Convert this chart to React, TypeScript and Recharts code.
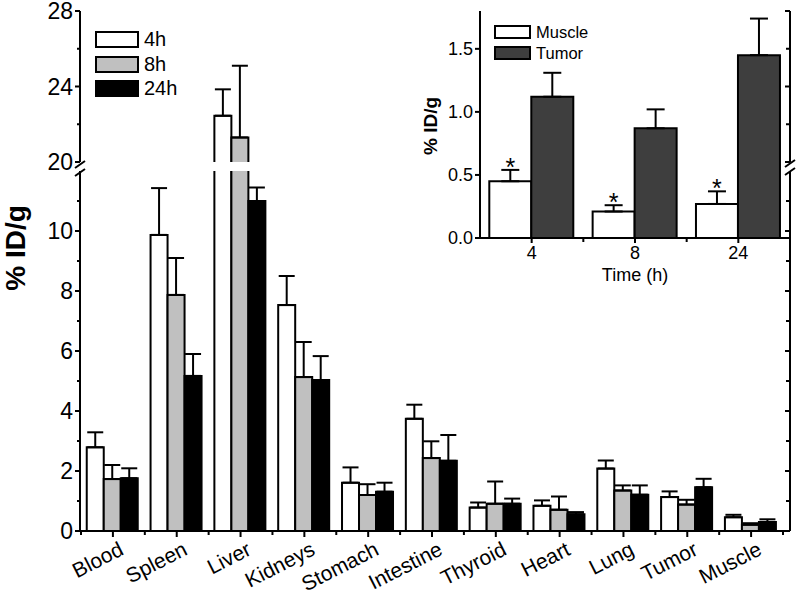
import React from 'react';
import { BarChart, Bar, XAxis, YAxis, ErrorBar, Legend } from 'recharts';

const FONT = '"Liberation Sans", Arial, Helvetica, sans-serif';
const INK = '#000';

// biodistribution, % ID/g at 4 h, 8 h and 24 h
const organs = ['Blood', 'Spleen', 'Liver', 'Kidneys', 'Stomach', 'Intestine', 'Thyroid', 'Heart', 'Lung', 'Tumor', 'Muscle'];
const mean4h = [2.79, 9.87, 22.45, 7.53, 1.61, 3.74, 0.78, 0.84, 2.08, 1.13, 0.46];
const err4h = [0.5, 1.56, 1.4, 0.97, 0.51, 0.47, 0.17, 0.18, 0.27, 0.19, 0.08];
const mean8h = [1.73, 7.87, 21.3, 5.13, 1.2, 2.43, 0.91, 0.71, 1.35, 0.88, 0.21];
const err8h = [0.47, 1.23, 3.8, 1.17, 0.36, 0.56, 0.74, 0.44, 0.17, 0.16, 0.05];
const mean24h = [1.76, 5.17, 11.0, 5.03, 1.31, 2.34, 0.91, 0.56, 1.21, 1.46, 0.3];
const err24h = [0.33, 0.73, 0.45, 0.8, 0.3, 0.86, 0.17, 0.07, 0.31, 0.28, 0.09];

// inset: muscle vs tumor uptake
const times = ['4', '8', '24'];
const muscleMean = [0.45, 0.21, 0.27];
const muscleErr = [0.09, 0.05, 0.1];
const tumorMean = [1.12, 0.87, 1.45];
const tumorErr = [0.19, 0.15, 0.29];

// axis ticks (broken axis: 0-12 below, 20-28 above)
const lowTicks = [0, 1, 2, 3, 4, 5, 6, 7, 8, 9, 10, 11];
const lowLabels = [0, 2, 4, 6, 8, 10];
const highTicks = [20, 22, 24, 26, 28];
const highLabels = [20, 24, 28];
const insetTicks = [0, 0.5, 1, 1.5];

const series = [
  { key: 'h4', name: '4h', fill: '#ffffff', mean: mean4h, err: err4h },
  { key: 'h8', name: '8h', fill: '#c0c0c0', mean: mean8h, err: err8h },
  { key: 'h24', name: '24h', fill: '#000000', mean: mean24h, err: err24h },
];

// rows for one segment of the broken axis
const segment = (lo: number, hi: number) =>
  organs.map((organ, i) => {
    const row: any = { organ };
    series.forEach((s) => {
      const v = s.mean[i];
      const inside = v > lo;
      row[s.key] = inside ? v : null;
      row[s.key + 'Err'] = inside && v + s.err[i] <= hi ? [0, s.err[i]] : null;
    });
    return row;
  });

const lowData = segment(0, 12);
const highData = segment(20, 28);

const insetData = times.map((time, i) => ({
  time,
  muscle: muscleMean[i],
  muscleErr: [0, muscleErr[i]],
  tumor: tumorMean[i],
  tumorErr: [0, tumorErr[i]],
}));

const PLOT_W = 710;
const PAD = { left: 1, right: 7 };
const HALF = (PLOT_W - PAD.left - PAD.right) / organs.length / 2;
const INSET_HALF = 310 / times.length / 2;

// bar drawn with open bottom, so the broken liver bars stay open
const OpenBar = (props: any) => {
  const { x, y, width, height, fill } = props;
  if (![x, y, width, height].every(Number.isFinite) || height <= 0) return null;
  const b = y + height;
  return (
    <g>
      <rect x={x} y={y} width={width} height={height} fill={fill} />
      <path d={`M${x},${b}V${y}H${x + width}V${b}`} fill="none" stroke={INK} strokeWidth={2} />
    </g>
  );
};

const StarBar = (props: any) => {
  const { x, y, width, height, payload } = props;
  if (![x, y, width, height].every(Number.isFinite) || height <= 0) return null;
  const capY = y - (payload.muscleErr[1] / payload.muscle) * height;
  return (
    <g>
      <OpenBar {...props} />
      <text x={x + width / 2} y={capY + 6} textAnchor="middle" fontSize={25} fontFamily={FONT} fill={INK}>*</text>
    </g>
  );
};

const LeftTick = ({ x, y, payload, labels, fontSize, fmt }: any) => {
  const major = labels.includes(payload.value);
  return (
    <g>
      <line x1={x} x2={x - (major ? 5 : 3)} y1={y} y2={y} stroke={INK} strokeWidth={2} />
      {major && (
        <text x={x - 7} y={y} dy="0.36em" textAnchor="end" fontSize={fontSize} fontFamily={FONT} fill={INK}>
          {fmt ? fmt(payload.value) : payload.value}
        </text>
      )}
    </g>
  );
};

const RightTick = ({ x, y, payload, labels }: any) => {
  const major = labels.includes(payload.value);
  return <line x1={x} x2={x - (major ? 5 : 4)} y1={y} y2={y} stroke={INK} strokeWidth={2} />;
};

const TopTick = ({ x, y }: any) => (
  <g>
    <line x1={x} x2={x} y1={y} y2={y + 5} stroke={INK} strokeWidth={2} />
    <line x1={x + HALF} x2={x + HALF} y1={y} y2={y + 4} stroke={INK} strokeWidth={2} />
  </g>
);

const OrganTick = ({ x, y, payload, index }: any) => {
  const tx = x + 12;
  const ty = y + 23;
  return (
    <g>
      <line x1={x} x2={x} y1={y} y2={y + 6} stroke={INK} strokeWidth={2} />
      <line x1={x + HALF} x2={x + HALF} y1={y} y2={y + 4} stroke={INK} strokeWidth={2} />
      {index === 0 && <line x1={x - HALF} x2={x - HALF} y1={y} y2={y + 4} stroke={INK} strokeWidth={2} />}
      <text x={tx} y={ty} transform={`rotate(-27, ${tx}, ${ty})`} textAnchor="end" fontSize={21} fontFamily={FONT} fill={INK}>
        {payload.value}
      </text>
    </g>
  );
};

const TimeTick = ({ x, y, payload }: any) => (
  <g>
    <line x1={x} x2={x} y1={y} y2={y + 5} stroke={INK} strokeWidth={2} />
    <line x1={x + INSET_HALF} x2={x + INSET_HALF} y1={y} y2={y + 4} stroke={INK} strokeWidth={2} />
    <text x={x} y={y + 21} textAnchor="middle" fontSize={18} fontFamily={FONT} fill={INK}>{payload.value}</text>
  </g>
);

// legend swatches kept in series order
const legendContent = (order: string[], boxW: number, boxH: number, gap: number, fontSize: number) => ({ payload }: any) => {
  const items = [...(payload || [])].sort((a: any, b: any) => order.indexOf(a.value) - order.indexOf(b.value));
  return (
    <div style={{ display: 'flex', flexDirection: 'column', gap, fontFamily: FONT }}>
      {items.map((item: any) => (
        <div key={item.value} style={{ display: 'flex', alignItems: 'center', height: boxH }}>
          <span style={{ width: boxW, height: boxH, boxSizing: 'border-box', border: '2px solid #000', background: item.color, marginRight: 5 }} />
          <span style={{ fontSize, lineHeight: `${boxH}px`, color: INK }}>{item.value}</span>
        </div>
      ))}
    </div>
  );
};

const axisLine = { stroke: INK, strokeWidth: 2 };

const App: React.FC = () => (
  <div style={{ position: 'absolute', left: 0, top: 0, width: 800, height: 597, background: '#fff' }}>
    {/* upper segment 20-28 */}
    <div style={{ position: 'absolute', left: 0, top: 0 }}>
      <BarChart width={800} height={185} data={highData} margin={{ top: 11, right: 0, bottom: 23, left: 0 }} barCategoryGap="9%" barGap={0}>
        <XAxis dataKey="organ" orientation="top" height={0} axisLine={axisLine} tickLine={false} tickSize={0} tickMargin={0} padding={PAD} interval={0} tick={(p: any) => <TopTick {...p} />} />
        <YAxis yAxisId="l" width={80} type="number" domain={[20, 28]} ticks={highTicks} interval={0} allowDataOverflow axisLine={axisLine} tickLine={false} tickSize={0} tickMargin={0} tick={(p: any) => <LeftTick {...p} labels={highLabels} fontSize={23} />} />
        <YAxis yAxisId="r" orientation="right" width={10} type="number" domain={[20, 28]} ticks={highTicks} interval={0} allowDataOverflow axisLine={axisLine} tickLine={false} tickSize={0} tickMargin={0} tick={(p: any) => <RightTick {...p} labels={highLabels} />} />
        {series.map((s) => (
          <Bar key={s.key} yAxisId="l" dataKey={s.key} name={s.name} fill={s.fill} shape={(p: any) => <OpenBar {...p} />} isAnimationActive={false}>
            <ErrorBar dataKey={s.key + 'Err'} width={8} stroke={INK} strokeWidth={2} direction="y" />
          </Bar>
        ))}
        <Legend layout="horizontal" verticalAlign="middle" align="center" wrapperStyle={{ left: 95, top: 31, width: 'auto', height: 'auto' }} content={legendContent(series.map((s) => s.name), 44, 17, 7.5, 20)} />
      </BarChart>
    </div>

    {/* lower segment 0-12 */}
    <div style={{ position: 'absolute', left: 0, top: 0 }}>
      <BarChart width={800} height={597} data={lowData} margin={{ top: 171, right: 0, bottom: 0, left: 0 }} barCategoryGap="9%" barGap={0}>
        <XAxis dataKey="organ" height={66} axisLine={axisLine} tickLine={false} tickSize={0} tickMargin={0} padding={PAD} interval={0} tick={(p: any) => <OrganTick {...p} />} />
        <YAxis yAxisId="l" width={80} type="number" domain={[0, 12]} ticks={lowTicks} interval={0} allowDataOverflow axisLine={axisLine} tickLine={false} tickSize={0} tickMargin={0} tick={(p: any) => <LeftTick {...p} labels={lowLabels} fontSize={23} />} />
        <YAxis yAxisId="r" orientation="right" width={10} type="number" domain={[0, 12]} ticks={lowTicks} interval={0} allowDataOverflow axisLine={axisLine} tickLine={false} tickSize={0} tickMargin={0} tick={(p: any) => <RightTick {...p} labels={lowLabels} />} />
        {series.map((s) => (
          <Bar key={s.key} yAxisId="l" dataKey={s.key} name={s.name} fill={s.fill} shape={(p: any) => <OpenBar {...p} />} isAnimationActive={false}>
            <ErrorBar dataKey={s.key + 'Err'} width={8} stroke={INK} strokeWidth={2} direction="y" />
          </Bar>
        ))}
      </BarChart>
    </div>

    {/* inset */}
    <div style={{ position: 'absolute', left: 0, top: 0 }}>
      <BarChart width={800} height={300} data={insetData} margin={{ top: 11, right: 10, bottom: 0, left: 0 }} barCategoryGap="9%" barGap={0}>
        <XAxis dataKey="time" height={62} axisLine={axisLine} tickLine={false} tickSize={0} tickMargin={0} interval={0} tick={(p: any) => <TimeTick {...p} />} />
        <YAxis width={480} type="number" domain={[0, 1.8]} ticks={insetTicks} interval={0} allowDataOverflow axisLine={axisLine} tickLine={false} tickSize={0} tickMargin={0} tick={(p: any) => <LeftTick {...p} labels={insetTicks} fontSize={18} fmt={(v: number) => v.toFixed(1)} />} />
        <Bar dataKey="muscle" name="Muscle" fill="#ffffff" shape={(p: any) => <StarBar {...p} />} isAnimationActive={false}>
          <ErrorBar dataKey="muscleErr" width={9} stroke={INK} strokeWidth={2} direction="y" />
        </Bar>
        <Bar dataKey="tumor" name="Tumor" fill="#3e3e3e" shape={(p: any) => <OpenBar {...p} />} isAnimationActive={false}>
          <ErrorBar dataKey="tumorErr" width={9} stroke={INK} strokeWidth={2} direction="y" />
        </Bar>
        <Legend layout="horizontal" verticalAlign="middle" align="center" wrapperStyle={{ left: 494, top: 25, width: 'auto', height: 'auto' }} content={legendContent(['Muscle', 'Tumor'], 37, 14, 7, 16.5)} />
      </BarChart>
    </div>

    {/* axis titles and break marks */}
    <svg width={800} height={597} style={{ position: 'absolute', left: 0, top: 0, pointerEvents: 'none' }} fontFamily={FONT}>
      <text transform="translate(25,248) rotate(-90)" textAnchor="middle" fontSize={28} fontWeight="bold" fill={INK}>% ID/g</text>
      <text transform="translate(437,126) rotate(-90)" textAnchor="middle" fontSize={19} fontWeight="bold" fill={INK}>% ID/g</text>
      <text x={635} y={281} textAnchor="middle" fontSize={18} fill={INK}>Time (h)</text>
      <path d="M75,168 L85,161 M75,176 L85,169" stroke={INK} strokeWidth={2} fill="none" />
      <path d="M785,167 L795,160 M785,175 L795,168" stroke={INK} strokeWidth={2} fill="none" />
    </svg>
  </div>
);

export default App;
